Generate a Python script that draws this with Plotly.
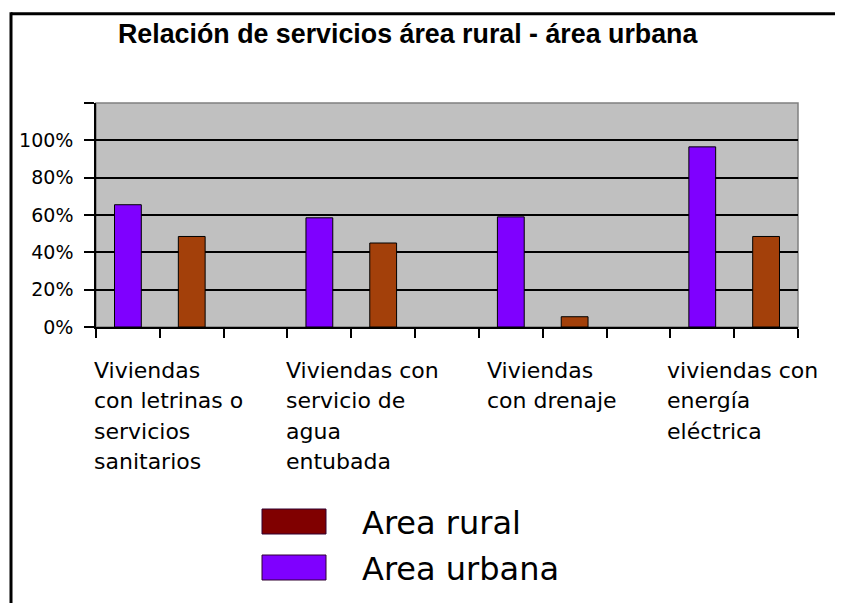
import plotly.graph_objects as go

# ---- data ----
categorias = [
    ["Viviendas", "con letrinas o", "servicios", "sanitarios"],
    ["Viviendas con", "servicio de", "agua", "entubada"],
    ["Viviendas", "con drenaje"],
    ["viviendas con", "energía", "eléctrica"],
]
area_urbana = [0.655, 0.585, 0.59, 0.965]
area_rural = [0.485, 0.45, 0.055, 0.485]
series_names = ["Area rural", "Area urbana"]
y_tick_vals = [0, 0.2, 0.4, 0.6, 0.8, 1.0, 1.2]
y_tick_text = ["0%", "20%", "40%", "60%", "80%", "100%", ""]
titulo = "Relación de servicios área rural - área urbana"

# ---- styles ----
COL_URB = "#7F00FF"
COL_RUR = "#A3400A"
COL_RUR_LEG = "#800000"
PLOT_BG = "#C0C0C0"
LABEL_SHIFTS = [-4, -3, 6, -5]

OFF = 8  # page body margin
W, H = 843, 603
L, R, T, B = 96 - OFF, 798 - OFF, 103 - OFF, 327 - OFF  # plot area in figure pixels


def px(xp):
    return (xp - OFF - L) / (R - L)


def py(yp):
    return (B - (yp - OFF)) / (B - T)


SLOTS = 3
n = len(categorias)
x_urb = [SLOTS * i + 0.5 for i in range(n)]
x_rur = [SLOTS * i + 1.5 for i in range(n)]
x_max = SLOTS * n - 1

fig = go.Figure()
fig.add_trace(go.Bar(x=x_urb, y=area_urbana, name=series_names[1], width=0.42,
                     marker=dict(color=COL_URB, line=dict(color="black", width=1)),
                     showlegend=False))
fig.add_trace(go.Bar(x=x_rur, y=area_rural, name=series_names[0], width=0.42,
                     marker=dict(color=COL_RUR, line=dict(color="black", width=1)),
                     showlegend=False))

shapes = []
shapes.append(dict(type="rect", xref="paper", yref="paper", x0=0, x1=1, y0=0, y1=1,
                   line=dict(color="#808080", width=1.5), layer="below"))
shapes.append(dict(type="line", xref="paper", yref="paper", x0=px(11), x1=px(860),
                   y0=py(13.7), y1=py(13.7), line=dict(color="black", width=3)))
shapes.append(dict(type="line", xref="paper", yref="paper", x0=px(11), x1=px(11),
                   y0=py(12.3), y1=py(620), line=dict(color="black", width=3)))

annotations = []
annotations.append(dict(text="<b>" + titulo + "</b>", xref="paper", yref="paper",
                        x=px(116), y=py(34), xanchor="left", yanchor="middle",
                        showarrow=False,
                        font=dict(family="Liberation Sans", size=26.8, color="black")))
# category labels (one annotation per wrapped line)
LINE_H = 30.5
for i, lines in enumerate(categorias):
    for k, ln in enumerate(lines):
        annotations.append(dict(text=ln, xref="x", yref="paper", x=SLOTS * i,
                                y=py(370 + k * LINE_H), xanchor="left", yanchor="middle",
                                xshift=LABEL_SHIFTS[i], showarrow=False,
                                font=dict(family="DejaVu Sans", size=22, color="black")))

# manual legend
leg_items = [(series_names[0], COL_RUR_LEG, 509, 534), (series_names[1], COL_URB, 555, 580)]
for name, col, y0, y1 in leg_items:
    shapes.append(dict(type="rect", xref="paper", yref="paper", x0=px(262), x1=px(326),
                       y0=py(y1), y1=py(y0), fillcolor=col,
                       line=dict(color="#300030", width=1)))
    annotations.append(dict(text=name, xref="paper", yref="paper", x=px(360),
                            y=py((y0 + y1) / 2 + 1), xanchor="left", yanchor="middle",
                            showarrow=False,
                            font=dict(family="DejaVu Sans", size=32, color="black")))

fig.update_layout(
    width=W, height=H, autosize=False,
    margin=dict(l=L, r=W - R, t=T, b=H - B, pad=0),
    paper_bgcolor="white", plot_bgcolor=PLOT_BG,
    barmode="overlay",
    shapes=shapes, annotations=annotations,
    xaxis=dict(range=[0, x_max], tickmode="array", tickvals=list(range(0, x_max + 1)),
               showticklabels=False, ticks="outside", ticklen=9, tickwidth=1.5,
               tickcolor="black", showline=True, linecolor="black", linewidth=1.5,
               showgrid=False, zeroline=False, fixedrange=True),
    yaxis=dict(range=[0, 1.2], tickmode="array", tickvals=y_tick_vals, ticktext=y_tick_text,
               ticks="outside", ticklen=10, tickwidth=1.5, tickcolor="black",
               showline=True, linecolor="black", linewidth=1.5,
               showgrid=True, gridcolor="black", gridwidth=1.5, zeroline=False,
               ticklabelstandoff=7,
               tickfont=dict(family="DejaVu Sans", size=19, color="black")),
    font=dict(family="DejaVu Sans"),
)
fig.write_html("out.html")
